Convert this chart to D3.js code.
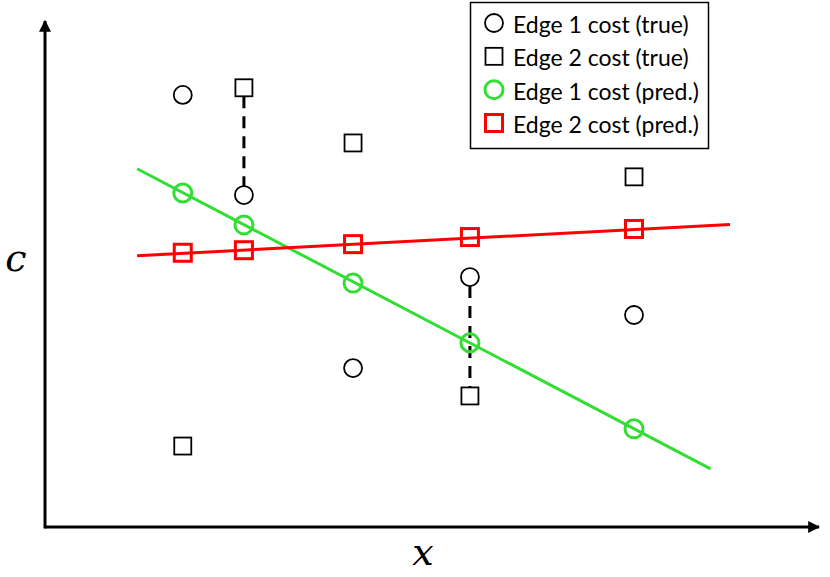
<!DOCTYPE html>
<html>
<head>
<meta charset="utf-8">
<script src="https://cdn.jsdelivr.net/npm/d3@7"></script>
<style>
  body { margin: 0; background: #fff; }
  svg { display: block; }
  .legend text { font-family: Lato, "Open Sans", sans-serif; font-size: 23px; fill: #000; }
  .axlabel { font-family: "DejaVu Serif", serif; font-style: italic; font-size: 38px; fill: #000; }
</style>
</head>
<body>
<div id="chart"></div>
<script>
// x positions of the five samples
var xs = [17.8, 25.7, 39.8, 54.9, 76.1];
// true costs
var edge1True = [85.4, 65.6, 31.4, 49.4, 41.9];
var edge2True = [16.0, 86.8, 75.9, 25.9, 69.2];
// predicted costs
var edge1Pred = [66.0, 59.7, 48.2, 36.4, 19.4];
var edge2Pred = [54.2, 54.7, 55.9, 57.3, 58.9];
// fitted lines (end points)
var lineX1 = [11.9, 86.0], lineY1 = [70.8, 11.5];
var lineX2 = [11.9, 88.5], lineY2 = [53.6, 59.8];
// which samples get a dashed link between the two true costs
var linked = [1, 3];
var legendLabels = ["Edge 1 cost (true)", "Edge 2 cost (true)", "Edge 1 cost (pred.)", "Edge 2 cost (pred.)"];

var width = 830, height = 577;
var margin = {left: 45, right: 11, top: 21, bottom: 50};

var x = d3.scaleLinear().domain([0, 100]).range([margin.left, width - margin.right]);
var y = d3.scaleLinear().domain([0, 100]).range([height - margin.bottom, margin.top]);

var svg = d3.select("#chart").append("svg")
  .attr("width", width)
  .attr("height", height);

var defs = svg.append("defs");
defs.append("marker")
  .attr("id", "arrow")
  .attr("viewBox", "0 0 10 10")
  .attr("refX", 9).attr("refY", 5)
  .attr("markerWidth", 4).attr("markerHeight", 4)
  .attr("markerUnits", "strokeWidth")
  .attr("orient", "auto")
  .append("path")
  .attr("d", "M0,0L10,5L0,10Z")
  .attr("fill", "#000");

// axes
svg.append("line")
  .attr("x1", x(0)).attr("y1", y(0))
  .attr("x2", x(100)).attr("y2", y(0))
  .attr("stroke", "#000").attr("stroke-width", 3)
  .attr("marker-end", "url(#arrow)");
svg.append("line")
  .attr("x1", x(0)).attr("y1", y(0) + 1.5)
  .attr("x2", x(0)).attr("y2", y(100))
  .attr("stroke", "#000").attr("stroke-width", 3)
  .attr("marker-end", "url(#arrow)");

svg.append("text").attr("class", "axlabel")
  .attr("x", 16).attr("y", 271)
  .attr("text-anchor", "middle")
  .text("c");
svg.append("text").attr("class", "axlabel")
  .attr("x", 423).attr("y", 565)
  .attr("text-anchor", "middle")
  .text("x");

// dashed links between true costs
var sq = 17, r = 9;
linked.forEach(function (i) {
  var a = y(edge1True[i]), b = y(edge2True[i]);
  var top = Math.min(a, b), bot = Math.max(a, b);
  var topIsSquare = y(edge2True[i]) < y(edge1True[i]);
  var y1 = top + (topIsSquare ? sq / 2 : r);
  var y2 = bot - (topIsSquare ? r : sq / 2);
  svg.append("line")
    .attr("x1", x(xs[i])).attr("x2", x(xs[i]))
    .attr("y1", y1).attr("y2", y2)
    .attr("stroke", "#000").attr("stroke-width", 3)
    .attr("stroke-dasharray", "12,8");
});

// fitted lines
var line = d3.line().x(function (d) { return x(d[0]); }).y(function (d) { return y(d[1]); });
svg.append("path")
  .attr("d", line(d3.zip(lineX1, lineY1)))
  .attr("fill", "none").attr("stroke", "#33dd33").attr("stroke-width", 3);
svg.append("path")
  .attr("d", line(d3.zip(lineX2, lineY2)))
  .attr("fill", "none").attr("stroke", "#ff0000").attr("stroke-width", 3);

function circles(data, color, sw, rad) {
  svg.append("g").selectAll("circle")
    .data(data)
    .enter().append("circle")
    .attr("cx", function (d, i) { return x(xs[i]); })
    .attr("cy", function (d) { return y(d); })
    .attr("r", rad)
    .attr("fill", "none")
    .attr("stroke", color)
    .attr("stroke-width", sw);
}
function squares(data, color, sw, side) {
  svg.append("g").selectAll("rect")
    .data(data)
    .enter().append("rect")
    .attr("x", function (d, i) { return x(xs[i]) - side / 2; })
    .attr("y", function (d) { return y(d) - side / 2; })
    .attr("width", side).attr("height", side)
    .attr("fill", "none")
    .attr("stroke", color)
    .attr("stroke-width", sw);
}

circles(edge1True, "#000", 1.8, r);
squares(edge2True, "#000", 1.8, sq);
circles(edge1Pred, "#33dd33", 3, 9);
squares(edge2Pred, "#ff0000", 3, 17);

// legend
var lg = svg.append("g").attr("class", "legend");
lg.append("rect")
  .attr("x", 470.5).attr("y", 2.5)
  .attr("width", 238).attr("height", 146)
  .attr("fill", "#fff").attr("stroke", "#000").attr("stroke-width", 1.5);

var ly = d3.scalePoint().domain(legendLabels).range([23, 123]);
var lx = 494;
lg.append("circle").attr("cx", lx).attr("cy", ly(legendLabels[0])).attr("r", 9)
  .attr("fill", "none").attr("stroke", "#000").attr("stroke-width", 1.8);
lg.append("rect").attr("x", lx - 8.5).attr("y", ly(legendLabels[1]) - 8.5).attr("width", 17).attr("height", 17)
  .attr("fill", "none").attr("stroke", "#000").attr("stroke-width", 1.8);
lg.append("circle").attr("cx", lx).attr("cy", ly(legendLabels[2])).attr("r", 9)
  .attr("fill", "none").attr("stroke", "#33dd33").attr("stroke-width", 3);
lg.append("rect").attr("x", lx - 8.5).attr("y", ly(legendLabels[3]) - 8.5).attr("width", 17).attr("height", 17)
  .attr("fill", "none").attr("stroke", "#ff0000").attr("stroke-width", 3);

lg.selectAll("text")
  .data(legendLabels)
  .enter().append("text")
  .attr("x", 513)
  .attr("y", function (d) { return ly(d) + 10; })
  .text(function (d) { return d; });
</script>
</body>
</html>
